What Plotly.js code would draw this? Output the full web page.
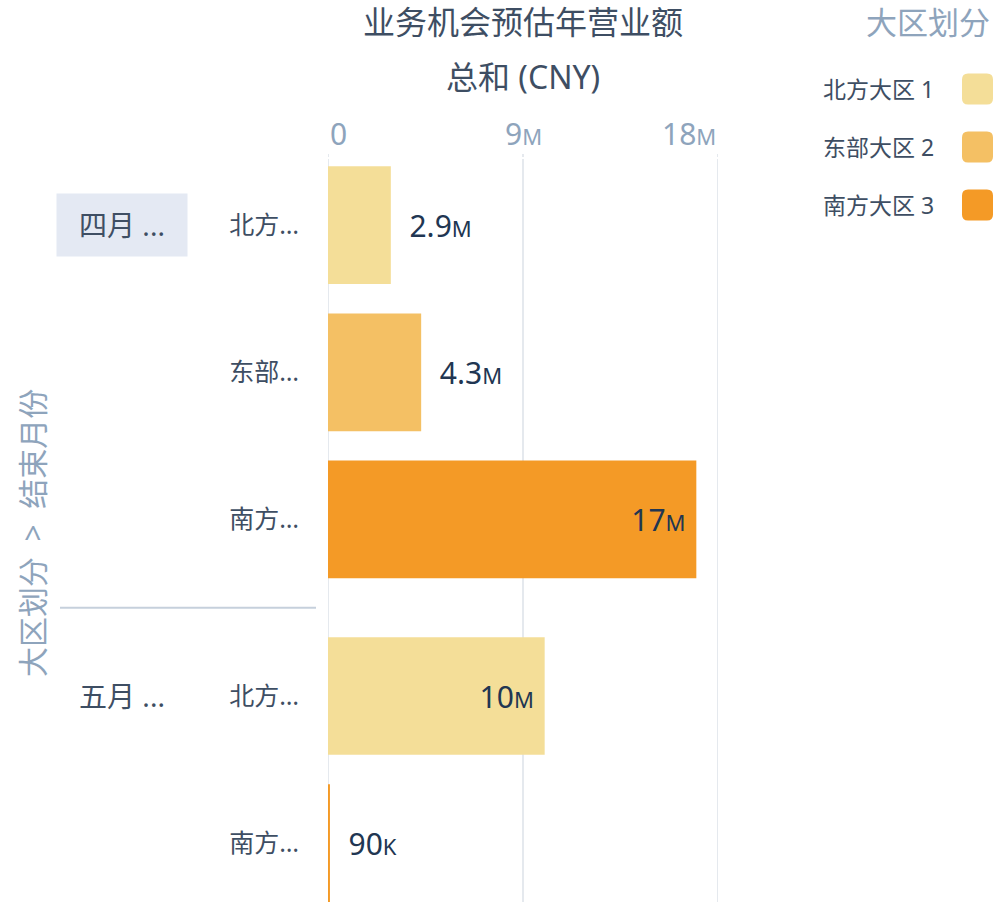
<!DOCTYPE html>
<html>
<head>
<meta charset="utf-8">
<script src="https://cdn.plot.ly/plotly-3.0.1.min.js"></script>
<style>html,body{margin:0;padding:0;background:#fff;}#chart{width:995px;height:902px;}</style>
</head>
<body>
<div id="chart"></div>
<script>
// ---- data ----
const titleLines = ['业务机会预估年营业额', '总和 (CNY)'];
const yAxisTitle = '大区划分\u00a0\u00a0>\u00a0\u00a0结束月份';
const legendTitle = '大区划分';
const months = ['四月 ...', '五月 ...'];
const regions = ['北方大区 1', '东部大区 2', '南方大区 3'];
const regionShort = ['北方…', '东部…', '南方…'];
const regionColors = ['#f4de98', '#f4c064', '#f49a26'];
const rowMonth = [0, 0, 0, 1, 1];
const rowRegion = [0, 1, 2, 0, 2];
const rowValue = [2900000, 4300000, 17000000, 10000000, 90000];
const rowNum = ['2.9', '4.3', '17', '10', '90'];
const rowUnit = ['M', 'M', 'M', 'M', 'K'];
const rowPos = ['outside', 'outside', 'inside', 'inside', 'outside'];
const xTickVals = [0, 9000000, 18000000];
const xTickNum = ['0', '9', '18'];
const xTickUnit = ['', 'M', 'M'];

// ---- layout helpers ----
const L = 328, W = 390, T = 159, H = 743;
const px = v => (v - L) / W;
const py = v => 1 - (v - T) / H;
const GROUP_GAP = 0.2;
const yPos = rowMonth.map((m, i) => i + m * GROUP_GAP);
const NB = '\u00a0';
const FONT = 'Noto Sans, Noto Sans CJK SC, sans-serif';
const DARK = '#213652';
const LABEL = '#3e4e63';
const MUTED = '#8ea4bc';
const GRID = '#dce2e9';

const barText = rowNum.map((n, i) => {
  const core = n + "<span style='font-size:22px'>" + rowUnit[i] + "</span>";
  return rowPos[i] === 'outside' ? NB + NB + core : core + NB;
});

const trace = {
  type: 'bar',
  orientation: 'h',
  x: rowValue,
  y: yPos,
  width: 0.8,
  marker: { color: rowRegion.map(r => regionColors[r]) },
  text: barText,
  textposition: rowPos,
  insidetextanchor: 'end',
  textfont: { family: FONT, size: 30, color: DARK },
  insidetextfont: { family: FONT, size: 30, color: DARK },
  outsidetextfont: { family: FONT, size: 30, color: DARK },
  cliponaxis: false,
  hoverinfo: 'none',
  showlegend: false
};

const annotations = [];
const shapes = [];
// vertical grid lines at tick values
xTickVals.forEach(v => {
  shapes.push({ type: 'line', layer: 'below', xref: 'x', yref: 'paper', x0: v, x1: v, y0: 0, y1: 1,
    line: { color: GRID, width: 1.5 } });
  shapes.push({ type: 'line', layer: 'below', xref: 'x', yref: 'paper', x0: v, x1: v, y0: py(154), y1: py(157),
    line: { color: GRID, width: 1.5 } });
});
// title
annotations.push({ xref: 'paper', yref: 'paper', x: 0.5, y: py(22), text: titleLines[0], showarrow: false,
  xanchor: 'center', yanchor: 'middle', font: { family: FONT, size: 32, color: LABEL } });
annotations.push({ xref: 'paper', yref: 'paper', x: 0.5, y: py(76), text: titleLines[1], showarrow: false,
  xanchor: 'center', yanchor: 'middle', font: { family: FONT, size: 32, color: LABEL } });
// x tick labels
xTickVals.forEach((v, i) => {
  const anchor = i === 0 ? 'left' : (i === xTickVals.length - 1 ? 'right' : 'center');
  annotations.push({ xref: 'x', yref: 'paper', x: v, y: py(133), showarrow: false, xanchor: anchor, yanchor: 'middle',
    text: xTickNum[i] + (xTickUnit[i] ? "<span style='font-size:22px'>" + xTickUnit[i] + "</span>" : ''),
    font: { family: FONT, size: 30, color: MUTED } });
});
// y axis title
annotations.push({ xref: 'paper', yref: 'paper', x: px(32), y: py(533), text: yAxisTitle, textangle: -90, showarrow: false,
  xanchor: 'center', yanchor: 'middle', font: { family: FONT, size: 30, color: MUTED } });
// group labels
months.forEach((m, mi) => {
  const first = rowMonth.indexOf(mi);
  annotations.push({ xref: 'paper', yref: 'y', x: px(122), y: yPos[first], text: m, showarrow: false,
    xanchor: 'center', yanchor: 'middle', width: 128, height: 60, align: 'center', valign: 'middle',
    bgcolor: mi === 0 ? '#e4e9f3' : 'rgba(0,0,0,0)',
    font: { family: FONT, size: 28, color: LABEL } });
});
// legend title
annotations.push({ xref: 'paper', yref: 'paper', x: px(992), y: py(22), text: legendTitle, showarrow: false,
  xanchor: 'right', yanchor: 'middle', font: { family: FONT, size: 31, color: MUTED } });

// group separator
for (let mi = 1; mi < months.length; mi++) {
  const first = rowMonth.indexOf(mi);
  const sepY = (yPos[first - 1] + yPos[first]) / 2;
  shapes.push({ type: 'line', xref: 'paper', yref: 'y', x0: px(60), x1: px(316), y0: sepY, y1: sepY,
    line: { color: '#c6d0dc', width: 2 } });
}
// custom legend
function roundRect(x0p, y0p, size, r) {
  const a = px(x0p), b = px(x0p + size), c = py(y0p), d = py(y0p + size);
  const rx = r / W, ry = r / H;
  return `M ${a + rx} ${c} L ${b - rx} ${c} Q ${b} ${c} ${b} ${c - ry} L ${b} ${d + ry} Q ${b} ${d} ${b - rx} ${d} ` +
         `L ${a + rx} ${d} Q ${a} ${d} ${a} ${d + ry} L ${a} ${c - ry} Q ${a} ${c} ${a + rx} ${c} Z`;
}
regions.forEach((r, i) => {
  const cy = 89 + i * 58;
  shapes.push({ type: 'path', xref: 'paper', yref: 'paper', path: roundRect(962, cy - 15.5, 31, 6),
    fillcolor: regionColors[i], line: { width: 0 } });
  annotations.push({ xref: 'paper', yref: 'paper', x: px(936), y: py(cy), text: r, showarrow: false,
    xanchor: 'right', yanchor: 'middle', font: { family: FONT, size: 23, color: LABEL } });
});

const layout = {
  width: 995, height: 902,
  margin: { l: L, r: 995 - L - W, t: T, b: 902 - T - H, pad: 0 },
  paper_bgcolor: '#ffffff', plot_bgcolor: 'rgba(0,0,0,0)',
  font: { family: FONT },
  showlegend: false,
  xaxis: {
    range: [0, 18000000], side: 'top', tickvals: xTickVals, showticklabels: false,
    ticks: '', showgrid: false, zeroline: false, showline: false, fixedrange: true
  },
  yaxis: {
    range: [yPos[yPos.length - 1] + 0.4, -0.45],
    tickvals: yPos, ticktext: rowRegion.map(r => regionShort[r]),
    tickfont: { family: FONT, size: 25, color: LABEL },
    ticklabelstandoff: 28, ticks: '', showgrid: false, zeroline: false, showline: false, fixedrange: true
  },
  annotations: annotations,
  shapes: shapes
};

Plotly.newPlot('chart', [trace], layout, { displayModeBar: false, staticPlot: true });
</script>
</body>
</html>
